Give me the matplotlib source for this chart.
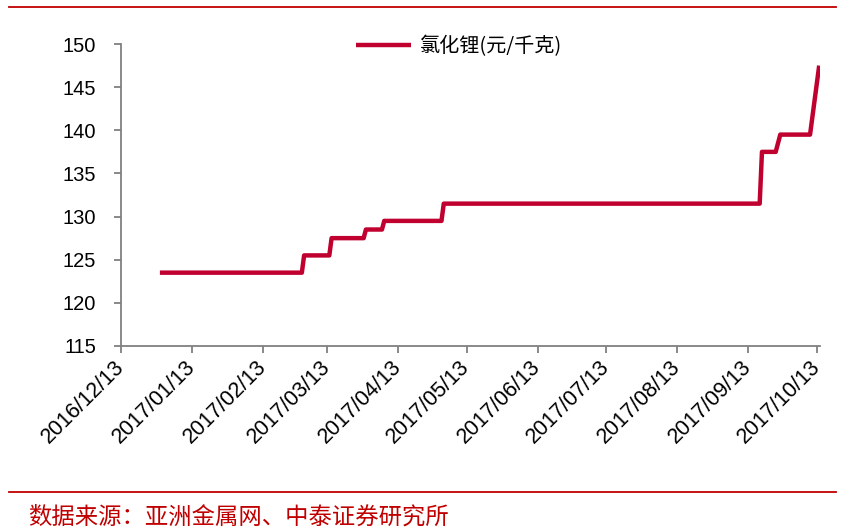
import matplotlib
matplotlib.use("Agg")
import matplotlib.pyplot as plt
import matplotlib.dates as mdates
from matplotlib.lines import Line2D
import pandas as pd

# price of lithium chloride, yuan/kg (step changes)
dates = ['2016-12-30', '2017-03-02', '2017-03-03', '2017-03-14', '2017-03-15',
         '2017-03-29', '2017-03-30', '2017-04-06', '2017-04-07', '2017-05-02',
         '2017-05-03', '2017-09-18', '2017-09-19', '2017-09-25', '2017-09-27',
         '2017-10-10', '2017-10-11', '2017-10-14']
prices = [123.5, 123.5, 125.5, 125.5, 127.5,
          127.5, 128.5, 128.5, 129.5, 129.5,
          131.5, 131.5, 137.5, 137.5, 139.5,
          139.5, 141.5, 147.5]
series_name = '氯化锂(元/千克)'
source_text = '数据来源：亚洲金属网、中泰证券研究所'
tick_dates = ['2016-12-13', '2017-01-13', '2017-02-13', '2017-03-13', '2017-04-13',
              '2017-05-13', '2017-06-13', '2017-07-13', '2017-08-13', '2017-09-13',
              '2017-10-13']
y_ticks = [115, 120, 125, 130, 135, 140, 145, 150]

cjk = ['Noto Sans CJK SC', 'DejaVu Sans']
plt.rcParams['font.family'] = ['Liberation Sans', 'DejaVu Sans']

fig = plt.figure(figsize=(8.49, 5.31), dpi=100)
ax = fig.add_axes([0.1425, 0.3484, 0.8233, 0.5687])

x = pd.to_datetime(dates)
ax.plot(x, prices, color='#C0002E', linewidth=3.2, solid_capstyle='butt',
        solid_joinstyle='round', label=series_name)

ax.set_ylim(115, 150)
ax.set_yticks(y_ticks)
ax.set_xlim(pd.Timestamp('2016-12-13'), pd.Timestamp('2017-10-14 08:00'))
ax.set_xticks(pd.to_datetime(tick_dates))
ax.xaxis.set_major_formatter(mdates.DateFormatter('%Y/%m/%d'))

for s in ['top', 'right']:
    ax.spines[s].set_visible(False)
for s in ['left', 'bottom']:
    ax.spines[s].set_color('#808080')
    ax.spines[s].set_linewidth(1.3)

ax.tick_params(axis='y', direction='out', length=5, width=1.3, color='#808080',
               labelsize=14.5, pad=13)
ax.tick_params(axis='x', direction='out', length=5, width=1.3, color='#808080',
               labelsize=15.5, pad=8)
for lab in ax.get_xticklabels():
    lab.set_rotation(45)
    lab.set_rotation_mode('anchor')
    lab.set_ha('right')
    lab.set_va('center')

leg = ax.legend(loc='center', bbox_to_anchor=(0.484, 0.993), frameon=False,
                handlelength=2.7, handletextpad=0.45, borderpad=0,
                prop={'family': cjk, 'size': 14.5})

# red rules above and below
fig.add_artist(Line2D([9 / 849, 836 / 849], [0.9868, 0.9868], color='#C00000',
                      linewidth=1.3, transform=fig.transFigure))
fig.add_artist(Line2D([9 / 849, 836 / 849], [0.0734, 0.0734], color='#C00000',
                      linewidth=1.3, transform=fig.transFigure))
fig.text(0.033, 0.026, source_text, color='#C00000', fontsize=16.8,
         family=cjk, ha='left', va='center')

fig.savefig('out.png', dpi=100)
